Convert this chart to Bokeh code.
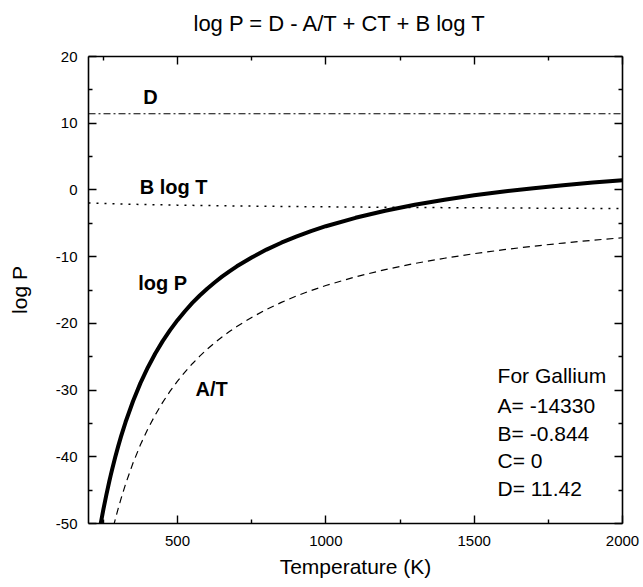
from bokeh.plotting import figure
from bokeh.models import LinearAxis, FixedTicker, CustomJSTickFormatter, Label, Range1d
from bokeh.embed import file_html
from bokeh.resources import INLINE

# ---- data ----
temperature = [200, 230, 240, 250, 260, 270, 275, 280, 290, 300, 310, 325, 350, 375,
               400, 425, 450, 475, 500, 525, 550, 575, 600, 625, 650, 675, 700, 750,
               800, 850, 900, 950, 1000, 1100, 1200, 1300, 1400, 1500, 1600, 1700,
               1800, 1900, 2000]
log_p = [-62.17, -52.87, -50.30, -47.92, -45.74, -43.70, -42.75, -41.83, -40.07, -38.44,
         -36.91, -34.79, -31.67, -28.96, -26.61, -24.52, -22.66, -21.01, -19.52, -18.18,
         -16.94, -15.83, -14.81, -13.87, -13.00, -12.20, -11.45, -10.12, -8.94, -7.91,
         -6.99, -6.17, -5.44, -4.18, -3.12, -2.23, -1.48, -0.81, -0.24, 0.26,
         0.71, 1.11, 1.46]
a_over_t = [-71.65, -62.30, -59.71, -57.32, -55.12, -53.07, -52.11, -51.18, -49.41, -47.77,
            -46.23, -44.09, -40.94, -38.21, -35.83, -33.72, -31.84, -30.17, -28.66, -27.30,
            -26.05, -24.92, -23.88, -22.93, -22.05, -21.23, -20.47, -19.11, -17.91, -16.86,
            -15.92, -15.08, -14.33, -13.03, -11.94, -11.02, -10.24, -9.55, -8.96, -8.43,
            -7.96, -7.54, -7.17]
b_log_t = [-1.942, -1.993, -2.009, -2.024, -2.038, -2.052, -2.059, -2.065, -2.078, -2.091,
           -2.103, -2.120, -2.147, -2.172, -2.196, -2.218, -2.239, -2.259, -2.278, -2.296,
           -2.313, -2.329, -2.345, -2.360, -2.374, -2.388, -2.401, -2.427, -2.450, -2.472,
           -2.493, -2.513, -2.532, -2.567, -2.599, -2.628, -2.655, -2.681, -2.704, -2.726,
           -2.747, -2.767, -2.786]
d_temperature = [200, 2000]
d_value = [11.42, 11.42]

x_major_ticks = [500, 1000, 1500, 2000]
x_minor_ticks = [250, 750, 1250, 1750]
y_major_ticks = [-50, -40, -30, -20, -10, 0, 10, 20]
y_minor_ticks = [-45, -35, -25, -15, -5, 5, 15]

title_text = "log P = D - A/T + CT + B log T"
x_title = "Temperature (K)"
y_title = "log P"
curve_names = ["D", "B log T", "log P", "A/T"]
param_lines = ["For Gallium", "A= -14330", "B= -0.844", "C= 0", "D= 11.42"]

FONT = "Liberation Sans"

p = figure(width=643, height=587, output_backend="svg", toolbar_location=None,
           x_range=Range1d(200, 2000), y_range=Range1d(-50, 20),
           title=title_text, x_axis_label=x_title, y_axis_label=y_title,
           min_border_left=88, min_border_right=21, min_border_top=56, min_border_bottom=64)

p.title.align = "left"
p.title.offset = 105
p.title.text_font = FONT
p.title.text_font_size = "22px"
p.title.text_font_style = "normal"
p.title.text_color = "black"
p.title.standoff = 0
p.title.padding = dict(top=0, right=0, bottom=21, left=0)

p.xgrid.grid_line_color = None
p.ygrid.grid_line_color = None
p.outline_line_color = None
p.background_fill_color = "white"
p.border_fill_color = "white"

bottom_axis = p.below[0]
left_axis = p.left[0]
plain = "return tick.toString()"
bottom_axis.ticker = FixedTicker(ticks=x_major_ticks, minor_ticks=x_minor_ticks)
left_axis.ticker = FixedTicker(ticks=y_major_ticks, minor_ticks=y_minor_ticks)
bottom_axis.formatter = CustomJSTickFormatter(code=plain)
left_axis.formatter = CustomJSTickFormatter(code=plain)

top_axis = LinearAxis(ticker=FixedTicker(ticks=x_major_ticks, minor_ticks=x_minor_ticks),
                      formatter=CustomJSTickFormatter(code="return ''"))
right_axis = LinearAxis(ticker=FixedTicker(ticks=y_major_ticks, minor_ticks=y_minor_ticks),
                        formatter=CustomJSTickFormatter(code="return ''"))
p.add_layout(top_axis, "above")
p.add_layout(right_axis, "right")

for ax in [bottom_axis, left_axis, top_axis, right_axis]:
    ax.major_tick_in = 8
    ax.major_tick_out = 0
    ax.minor_tick_in = 4
    ax.minor_tick_out = 0
    ax.axis_line_width = 1.6
    ax.axis_line_color = "black"
    ax.major_tick_line_width = 1.4
    ax.minor_tick_line_width = 1.4
    ax.major_tick_line_color = "black"
    ax.minor_tick_line_color = "black"
    ax.major_label_text_font = FONT
    ax.major_label_text_font_size = "15px"
    ax.major_label_text_color = "black"
    ax.axis_label_text_font = FONT
    ax.axis_label_text_font_size = "21px"
    ax.axis_label_text_font_style = "normal"
    ax.axis_label_text_color = "black"

top_axis.major_label_standoff = 0
right_axis.major_label_standoff = 0
bottom_axis.major_label_standoff = 12
bottom_axis.axis_label_standoff = 6
left_axis.major_label_standoff = 11
left_axis.axis_label_standoff = 22

# curves
p.line(d_temperature, d_value, line_color="black", line_width=1.2, line_dash="7 3 2 3")
p.line(temperature, b_log_t, line_color="black", line_width=1.5, line_dash="2 6")
p.line(temperature, a_over_t, line_color="black", line_width=1.2, line_dash="7 5")
p.line(temperature, log_p, line_color="black", line_width=4, line_join="round")

# curve labels (positions in data space)
curve_label_pos = [(409, 13.9), (487, 0.5), (450, -14.0), (615, -29.8)]
for name, (lx, ly) in zip(curve_names, curve_label_pos):
    p.add_layout(Label(x=lx, y=ly, text=name, text_font=FONT, text_font_size="20px",
                       text_font_style="bold", text_color="black",
                       text_align="center", text_baseline="middle"))

# parameter block
param_y = [-27.8, -32.3, -36.5, -40.6, -44.75]
for txt, ly in zip(param_lines, param_y):
    p.add_layout(Label(x=1579, y=ly, text=txt, text_font=FONT, text_font_size="21px",
                       text_color="black", text_align="left", text_baseline="middle"))

open("out.html", "w").write(file_html(p, INLINE))
